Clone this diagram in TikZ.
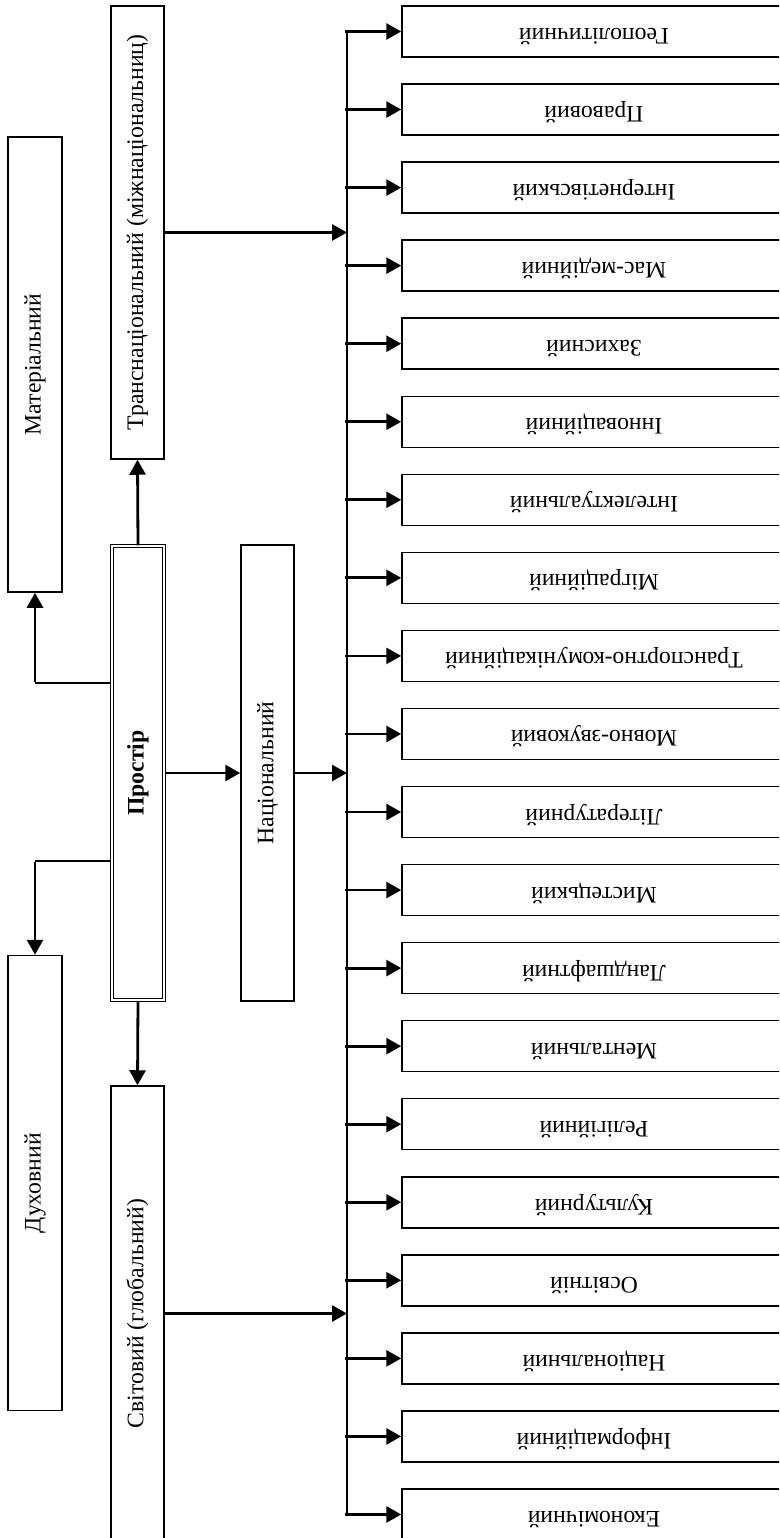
\documentclass[tikz,border=0pt]{standalone}
\usepackage{fontspec}
\setmainfont{Liberation Serif}
\usetikzlibrary{arrows.meta}
\begin{document}
\begin{tikzpicture}[x=1pt,y=-1pt,
  box/.style={draw=black, line width=1.5pt, rectangle, inner sep=0pt, font=\fontsize{23.7}{28}\selectfont},
  vbox/.style={box, minimum width=54pt, minimum height=455pt},
  rbox/.style={box, minimum width=384pt, minimum height=51pt, text height=0pt, text depth=6pt},
  dbox/.style={box, draw=black, line width=1.5pt, double=white, double distance=1.4pt, minimum width=52pt, minimum height=454pt, font=\fontsize{23.7}{28}\selectfont\bfseries},
  arr/.style={line width=2.8pt, -{Triangle[length=15pt,width=16pt]}},
  thinline/.style={line width=1.4pt},
  bus/.style={line width=1.8pt}]
\useasboundingbox (0,0) rectangle (779,1538);
\clip (0,0) rectangle (779,1538);
\fill[white] (0,0) rectangle (779,1538);

% left column
\node[vbox] (mat) at (35,364.5) {\rotatebox{90}{Матеріальний}};
\node[vbox] (duh) at (35,1183) {\rotatebox{90}{Духовний}};
% middle column
\node[vbox, minimum width=53pt, minimum height=453pt] (trans) at (137.5,232.5) {\rotatebox{90}{Транснаціональний (міжнаціональниц)}};
\node[dbox] (prostir) at (138,773) {\rotatebox{90}{Простір}};
\node[vbox, minimum width=53pt, minimum height=456pt] (nac) at (267.5,773) {\rotatebox{90}{Національний}};
\node[vbox, minimum width=53pt] (svit) at (137.5,1313.5) {\rotatebox{90}{Світовий (глобальний)}};

% right column
\foreach \t [count=\i from 0] in {Геополітичний,Правовий,Інтернетівський,Мас-медійний,Захисний,Інноваційний,Інтелектуальний,Міграційний,Транспортно-комунікаційний,Мовно-звуковий,Літературний,Мистецький,Ландшафтний,Ментальний,Релігійний,Культурний,Освітній,Національний,Інформаційний,Економічний}{
  \node[rbox] (r\i) at (594,{31.5+78.05*\i}) {\rotatebox{180}{\t}};
}

% bus line
\coordinate (vtop) at (347,31.5);
\coordinate (vbot) at (347,1514.5);
\draw[bus] (vtop) -- (vbot);
\foreach \i in {0,...,19}{
  \draw[arr] ([xshift=-2pt]vtop |- r\i.west) -- (r\i.west);
}

% connectors from Простір
\coordinate (m1) at (35,683);
\coordinate (d1) at (35,861);
\draw[thinline] (prostir.west |- m1) -- (m1);
\draw[arr] ([yshift=0.7pt]m1) -- (mat.south);
\draw[thinline] (prostir.west |- d1) -- (d1);
\draw[arr] ([yshift=-0.7pt]d1) -- (duh.north);
\draw[arr] (prostir.north) -- (trans.south);
\draw[arr] (prostir.south) -- (svit.north);
\draw[arr] (prostir.east) -- (nac.west);

% connectors to bus
\draw[arr] (nac.east) -- (vtop |- nac.east);
\draw[arr] (trans.east) -- (vtop |- trans.east);
\draw[arr] (svit.east) -- (vtop |- svit.east);
\end{tikzpicture}
\end{document}
